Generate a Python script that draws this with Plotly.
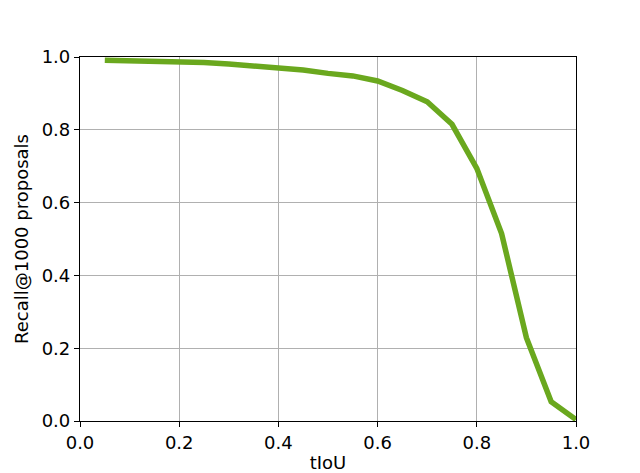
import plotly.graph_objects as go

tiou = [0.05, 0.10, 0.15, 0.20, 0.25, 0.30, 0.35, 0.40, 0.45, 0.50,
        0.55, 0.60, 0.65, 0.70, 0.75, 0.80, 0.85, 0.90, 0.95, 1.00]
recall = [0.991, 0.990, 0.988, 0.987, 0.985, 0.981, 0.976, 0.969, 0.964, 0.955,
          0.948, 0.934, 0.908, 0.877, 0.815, 0.694, 0.515, 0.229, 0.053, 0.004]

tick_vals = [0.0, 0.2, 0.4, 0.6, 0.8, 1.0]
tick_text = ["0.0", "0.2", "0.4", "0.6", "0.8", "1.0"]

fig = go.Figure()
fig.add_scatter(
    x=tiou,
    y=recall,
    mode="lines",
    line=dict(color="#6aa81e", width=5.5),
    showlegend=False,
)

axis_common = dict(
    range=[0, 1],
    tickvals=tick_vals,
    ticktext=tick_text,
    showgrid=True,
    gridcolor="#b0b0b0",
    gridwidth=1,
    showline=True,
    linecolor="black",
    linewidth=1.2,
    mirror=True,
    ticks="outside",
    ticklen=5,
    tickwidth=1,
    tickcolor="black",
    zeroline=False,
    automargin=False,
    tickfont=dict(size=18, color="black"),
    title_font=dict(size=18, color="black"),
)

# page body has an 8px margin, so the plot box is shifted up/left by 8px
fig.update_layout(
    width=640,
    height=473,
    margin=dict(l=72, r=72, t=49, b=60),
    paper_bgcolor="white",
    plot_bgcolor="white",
    font=dict(family="DejaVu Sans", size=18, color="black"),
    xaxis=dict(axis_common, title=dict(text="tIoU", standoff=4)),
    yaxis=dict(axis_common, title=dict(text="Recall@1000 proposals", standoff=8)),
)

fig.write_html("out.html")
